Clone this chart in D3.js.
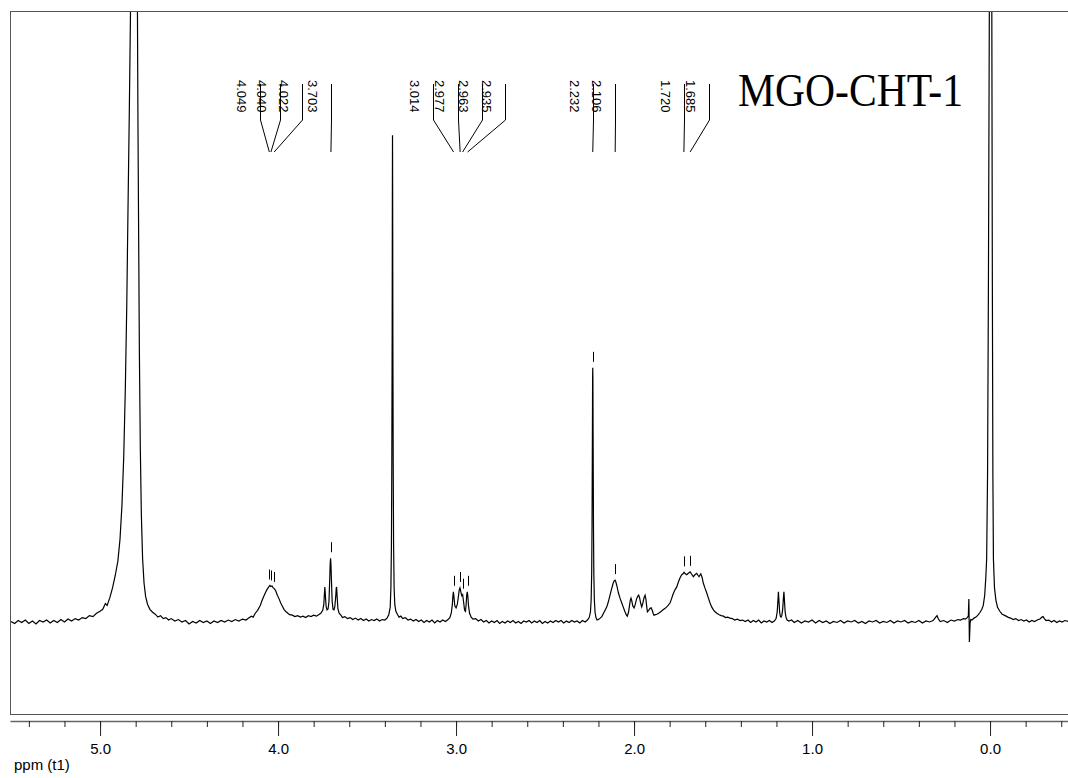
<!DOCTYPE html>
<html>
<head>
<meta charset="utf-8">
<script src="https://cdn.jsdelivr.net/npm/d3@7"></script>
<style>
  body { margin: 0; background: #fff; }
  #graph svg { display: block; }
</style>
</head>
<body>
<div id="graph"></div>
<script>
var sampleName = "MGO-CHT-1";
var axisTitle = "ppm (t1)";

// picked peaks (ppm) and where their leader lines start (ppm), spread so text does not collide
var peakLabels   = [4.049, 4.040, 4.022, 3.703, 3.014, 2.977, 2.963, 2.935, 2.232, 2.106, 1.720, 1.685];
var labelAnchors = [4.101, 3.989, 3.867, 3.703, 3.128, 2.987, 2.856, 2.725, 2.232, 2.106, 1.720, 1.579];

var majorTicks = [5.0, 4.0, 3.0, 2.0, 1.0, 0.0];
var minorTicks = [5.4, 5.2, 5.0, 4.8, 4.6, 4.4, 4.2, 4.0, 3.8, 3.6, 3.4, 3.2, 3.0, 2.8, 2.6, 2.4,
                  2.2, 2.0, 1.8, 1.6, 1.4, 1.2, 1.0, 0.8, 0.6, 0.4, 0.2, 0.0, -0.2, -0.4];

// [ppm, relative intensity] (3.357 singlet = 100)
var spectrum = [
  [5.50,0.1],[5.48,-0.3],[5.46,0.3],[5.44,-0.1],[5.42,0.4],[5.40,-0.3],[5.38,0.2],[5.36,-0.4],[5.34,0.3],[5.32,0.0],
  [5.30,0.4],[5.28,-0.2],[5.26,0.3],[5.24,-0.1],[5.22,0.5],[5.20,0.0],[5.18,0.6],[5.16,0.2],[5.14,0.7],[5.12,0.4],
  [5.10,0.9],[5.08,0.7],[5.06,1.3],[5.04,1.1],[5.02,1.8],[5.00,2.2],[4.985,2.6],[4.97,3.8],[4.96,3.4],[4.945,5.0],
  [4.93,7.0],[4.915,9.5],[4.90,12.5],[4.888,17],[4.877,24],[4.867,34],[4.858,48],[4.850,65],[4.843,85],[4.836,104],
  [4.829,125.5],[4.810,250],[4.790,125.5],[4.787,102],[4.783,78],[4.779,55],[4.774,36],[4.768,22],[4.761,13],[4.753,8],
  [4.744,5.2],[4.733,3.6],[4.72,2.6],[4.705,2.0],[4.69,1.6],[4.675,1.0],[4.66,1.3],[4.645,0.7],[4.63,0.9],[4.615,0.4],
  [4.60,0.7],[4.58,0.2],[4.56,0.5],[4.54,0.0],[4.52,0.3],[4.50,-0.4],[4.48,0.1],[4.46,-0.2],[4.44,0.3],[4.42,-0.1],
  [4.40,0.2],[4.38,-0.3],[4.36,0.2],[4.34,-0.1],[4.32,0.3],[4.30,0.0],[4.28,0.4],[4.26,0.1],[4.24,0.5],[4.22,0.2],
  [4.20,0.6],[4.18,0.4],[4.165,0.8],[4.15,1.2],[4.14,1.0],[4.128,1.8],[4.115,2.4],[4.10,3.4],[4.09,4.4],[4.08,5.3],
  [4.07,6.1],[4.06,6.8],[4.052,7.2],[4.046,7.5],[4.040,7.3],[4.034,7.4],[4.027,7.0],[4.020,6.8],[4.012,6.3],[4.004,5.5],
  [3.995,4.8],[3.985,3.9],[3.975,3.2],[3.965,2.5],[3.955,2.1],[3.945,1.8],[3.935,1.5],[3.92,1.4],[3.905,1.1],[3.89,1.3],
  [3.875,1.0],[3.86,1.2],[3.845,0.9],[3.83,1.3],[3.815,1.1],[3.80,1.4],[3.785,1.2],[3.772,1.5],[3.760,1.8],
  [3.749,2.4],[3.743,3.6],[3.740,5.5],[3.737,7.2],[3.734,5.4],[3.730,3.2],[3.725,2.5],[3.719,2.7],[3.714,4.2],[3.710,8.5],
  [3.707,12],[3.705,13.1],[3.703,12],[3.700,8.5],[3.696,4.2],[3.691,2.6],[3.686,2.5],[3.681,3.2],[3.676,5.2],[3.673,7.0],
  [3.671,7.2],[3.668,5.2],[3.664,2.8],[3.657,1.8],[3.647,1.4],[3.638,0.9],[3.625,1.1],[3.61,0.7],[3.595,0.9],[3.58,0.5],
  [3.565,0.8],[3.55,0.4],[3.535,0.7],[3.52,0.3],[3.505,0.6],[3.49,0.2],[3.475,0.5],[3.46,0.3],[3.445,0.6],[3.43,0.2],
  [3.415,0.5],[3.40,0.4],[3.388,0.8],[3.378,1.5],
  [3.370,3.0],[3.366,7],[3.363,16],[3.361,32],[3.359,58],[3.3578,88],[3.357,100],[3.3562,88],[3.355,58],[3.353,32],
  [3.351,16],[3.348,7],[3.344,3.5],[3.338,2.2],[3.330,1.6],[3.320,1.0],[3.31,1.2],[3.30,0.7],[3.285,0.9],[3.27,0.4],
  [3.255,0.6],[3.24,0.2],[3.225,0.5],[3.21,0.1],[3.195,0.4],[3.18,-0.1],[3.165,0.3],[3.15,0.0],[3.135,0.4],[3.12,-0.2],
  [3.105,0.3],[3.09,0.0],[3.075,0.4],[3.06,0.1],[3.045,0.5],
  [3.035,0.9],[3.027,1.8],[3.021,3.5],[3.018,5.2],[3.015,6.2],[3.012,5.2],[3.007,3.3],[3.000,2.9],[2.993,3.6],[2.987,5.2],
  [2.982,6.6],[2.978,7.0],[2.973,6.2],[2.968,5.4],[2.963,5.6],[2.958,4.2],[2.952,2.4],[2.947,2.2],[2.943,3.8],[2.940,5.6],
  [2.937,6.2],[2.934,5.4],[2.930,3.3],[2.924,1.8],[2.915,1.0],[2.905,0.6],[2.89,0.7],[2.875,0.2],[2.86,0.5],[2.845,0.0],
  [2.83,0.3],[2.815,-0.2],[2.80,0.2],[2.785,-0.1],[2.77,0.3],[2.755,-0.3],[2.74,0.1],[2.725,-0.2],[2.71,0.2],[2.695,-0.1],
  [2.68,0.3],[2.665,-0.2],[2.65,0.1],[2.635,-0.3],[2.62,0.2],[2.605,0.0],[2.59,0.3],[2.575,-0.2],[2.56,0.2],[2.545,-0.1],
  [2.53,0.3],[2.515,-0.3],[2.50,0.1],[2.485,-0.2],[2.47,0.2],[2.455,-0.1],[2.44,0.3],[2.425,0.0],[2.41,0.3],[2.395,-0.2],
  [2.38,0.2],[2.365,-0.1],[2.35,0.3],[2.335,0.0],[2.32,0.2],[2.305,-0.2],[2.29,0.3],[2.275,0.0],[2.262,0.4],[2.252,0.9],
  [2.245,2.0],[2.241,4.5],[2.238,10],[2.236,20],[2.234,38],[2.2328,50],[2.232,52.2],[2.2312,50],[2.230,38],[2.228,20],
  [2.226,10],[2.223,4.5],[2.219,2.0],[2.214,0.9],[2.208,0.4],[2.200,0.5],[2.190,0.8],[2.181,1.1],[2.170,1.9],[2.160,2.6],
  [2.153,3.1],[2.144,4.2],[2.135,5.5],[2.126,6.8],[2.118,7.9],[2.111,8.5],[2.107,8.6],[2.103,8.3],[2.097,7.5],[2.088,6.0],
  [2.079,4.9],[2.069,3.9],[2.060,3.0],[2.051,2.1],[2.044,1.5],[2.038,1.2],[2.031,2.0],[2.025,3.5],[2.021,4.5],[2.017,4.9],
  [2.013,4.4],[2.007,3.3],[2.000,2.9],[1.994,3.5],[1.986,4.7],[1.979,5.3],[1.974,5.5],[1.969,5.0],[1.963,3.9],[1.957,3.1],
  [1.951,3.8],[1.944,5.0],[1.938,5.5],[1.933,4.6],[1.929,3.2],[1.925,2.1],[1.918,2.4],[1.910,2.8],[1.904,2.9],[1.898,2.4],
  [1.892,1.7],[1.888,1.4],[1.880,1.5],[1.872,1.6],[1.862,1.8],[1.850,2.1],[1.837,2.5],[1.825,2.8],[1.811,3.3],[1.798,3.9],
  [1.789,4.8],[1.780,5.8],[1.770,6.6],[1.760,7.2],[1.750,8.3],[1.740,9.2],[1.732,9.7],[1.725,9.9],[1.719,10.2],[1.712,9.9],
  [1.704,9.7],[1.695,10.0],[1.685,10.3],[1.676,9.8],[1.667,9.3],[1.658,9.7],[1.648,10.0],[1.641,9.6],[1.635,9.3],[1.630,9.6],
  [1.625,9.9],[1.618,9.2],[1.611,8.0],[1.602,7.0],[1.592,6.0],[1.583,5.0],[1.573,3.9],[1.564,3.1],[1.554,2.5],[1.545,2.1],
  [1.535,1.8],[1.522,1.5],[1.510,1.3],[1.498,1.2],[1.486,0.9],[1.474,1.0],[1.461,0.8],[1.448,0.7],[1.435,0.4],[1.420,0.6],
  [1.405,0.3],[1.390,0.4],[1.375,0.1],[1.36,0.4],[1.345,-0.1],[1.33,0.3],[1.315,0.0],[1.30,0.4],[1.285,-0.2],[1.27,0.2],
  [1.255,0.0],[1.24,0.3],[1.225,-0.1],[1.212,0.2],
  [1.202,0.7],[1.196,2.0],[1.192,4.2],[1.189,6.2],[1.186,4.4],[1.182,2.0],[1.178,1.2],[1.174,1.0],[1.170,1.3],[1.165,2.6],
  [1.161,4.8],[1.158,6.2],[1.155,4.4],[1.151,2.0],[1.146,0.9],[1.140,0.4],[1.13,0.2],
  [1.115,0.4],[1.10,-0.1],[1.08,0.3],[1.06,-0.2],[1.04,0.2],[1.02,0.0],[1.00,0.4],[0.98,-0.2],[0.96,0.3],[0.94,-0.1],
  [0.92,0.2],[0.90,-0.3],[0.88,0.1],[0.86,-0.1],[0.84,0.3],[0.82,-0.2],[0.80,0.2],[0.78,0.0],[0.76,0.3],[0.74,-0.2],
  [0.72,0.1],[0.70,-0.3],[0.68,0.2],[0.66,0.0],[0.64,0.3],[0.62,-0.2],[0.60,0.1],[0.58,-0.1],[0.56,0.3],[0.54,-0.2],
  [0.52,0.2],[0.50,0.0],[0.48,0.3],[0.46,-0.2],[0.44,0.1],[0.42,-0.1],[0.40,0.3],[0.38,-0.2],[0.36,0.2],[0.34,0.0],
  [0.32,0.3],[0.305,1.0],[0.298,1.3],[0.29,0.6],[0.28,0.1],[0.26,0.3],[0.24,-0.1],[0.22,0.4],[0.20,0.2],[0.18,0.5],
  [0.165,0.4],[0.150,0.7],[0.138,0.6],[0.128,0.9],[0.122,1.2],[0.119,4.7],[0.116,-4.1],[0.112,-0.2],[0.108,0.5],[0.101,0.4],
  [0.090,0.8],[0.079,1.0],[0.068,1.4],[0.056,2.0],[0.046,2.6],[0.038,3.4],[0.030,5.5],[0.024,9],[0.019,13],[0.014,30],
  [0.009,70],[0.004,125.5],[0.0,250],[-0.010,125.5],[-0.013,70],[-0.016,30],[-0.019,13],[-0.025,7],[-0.033,4.5],[-0.042,3.0],
  [-0.055,2.2],[-0.068,1.6],[-0.085,1.3],[-0.10,1.0],[-0.115,0.8],[-0.13,0.5],[-0.145,0.7],[-0.16,0.3],[-0.175,0.5],[-0.19,0.2],
  [-0.205,0.4],[-0.22,0.0],[-0.235,0.3],[-0.25,0.1],[-0.265,0.4],[-0.28,0.6],[-0.292,1.0],[-0.298,1.1],[-0.305,0.7],[-0.315,0.3],
  [-0.33,0.4],[-0.345,0.0],[-0.36,0.3],[-0.375,-0.1],[-0.39,0.2],[-0.405,0.0],[-0.42,0.3],[-0.44,0.1]
];

var W = 1068, H = 778;
var frame = { left: 10, top: 11, right: 1068, bottom: 714 };
var sans = "Arial, 'Liberation Sans', sans-serif";

var svg = d3.select("#graph").append("svg")
    .attr("width", W)
    .attr("height", H);

var x = d3.scaleLinear().domain([5.506, -0.438]).range([frame.left, frame.right]);
var y = d3.scaleLinear().domain([-18.9, 125.5]).range([frame.bottom, frame.top]);

svg.append("defs").append("clipPath")
    .attr("id", "plot-clip")
  .append("rect")
    .attr("x", frame.left + 1)
    .attr("y", frame.top + 1)
    .attr("width", frame.right - frame.left)
    .attr("height", frame.bottom - frame.top - 1);

// frame (right side runs off the page like in the original)
svg.append("rect")
    .attr("x", frame.left + 0.5)
    .attr("y", frame.top + 0.5)
    .attr("width", frame.right - frame.left + 10)
    .attr("height", frame.bottom - frame.top)
    .style("fill", "none")
    .style("stroke", "#555")
    .style("stroke-width", 1)
    .style("shape-rendering", "crispEdges");

var line = d3.line()
    .x(function(d) { return x(d[0]); })
    .y(function(d) { return y(d[1]); });

svg.append("path")
    .datum(spectrum)
    .attr("clip-path", "url(#plot-clip)")
    .attr("d", line)
    .style("fill", "none")
    .style("stroke", "#000")
    .style("stroke-width", 1.2);

// peak pick markers sit just above the local top of the trace
function localTop(ppm) {
    var near = spectrum.filter(function(d) { return Math.abs(d[0] - ppm) < 0.006; });
    return d3.max(near, function(d) { return d[1]; });
}

svg.append("g").selectAll("line")
    .data(peakLabels)
    .enter().append("line")
    .attr("x1", function(d) { return Math.round(x(d)) + 0.5; })
    .attr("x2", function(d) { return Math.round(x(d)) + 0.5; })
    .attr("y1", function(d) { return y(localTop(d)) - 16; })
    .attr("y2", function(d) { return y(localTop(d)) - 6; })
    .style("stroke", "#000")
    .style("stroke-width", 1);

// leader lines and rotated labels
var labels = svg.append("g");
labels.selectAll("path")
    .data(peakLabels)
    .enter().append("path")
    .attr("d", function(d, i) {
        var ax = Math.round(x(labelAnchors[i])) + 0.5;
        return "M" + ax + ",84V120L" + x(d) + ",152";
    })
    .style("fill", "none")
    .style("stroke", "#000")
    .style("stroke-width", 1);

labels.selectAll("text")
    .data(peakLabels)
    .enter().append("text")
    .attr("transform", function(d, i) {
        return "translate(" + (x(labelAnchors[i]) - 18.5) + ",80) rotate(90)";
    })
    .attr("dy", "0.35em")
    .style("font-family", sans)
    .style("font-size", "13px")
    .style("fill", "#000")
    .text(function(d) { return d3.format(".3f")(d); });

svg.append("text")
    .attr("x", 738)
    .attr("y", 106)
    .attr("textLength", 225)
    .attr("lengthAdjust", "spacingAndGlyphs")
    .style("font-family", "'Times New Roman', 'Liberation Serif', serif")
    .style("font-size", "46px")
    .style("fill", "#000")
    .text(sampleName);

// ppm axis: minor ticks every 0.2, labelled major ticks every 1.0
var axisG = svg.append("g").attr("transform", "translate(0,721)");

axisG.append("g")
    .call(d3.axisBottom(x).tickValues(minorTicks).tickSize(6).tickSizeOuter(0).tickFormat(""))
    .call(function(g) { g.select(".domain").style("stroke", "#666").style("stroke-width", 1.5); });

axisG.append("g")
    .call(d3.axisBottom(x).tickValues(majorTicks).tickSize(15).tickSizeOuter(0)
        .tickPadding(7).tickFormat(d3.format(".1f")))
    .call(function(g) { g.select(".domain").remove(); });

axisG.selectAll(".tick line").style("stroke", "#222");
axisG.selectAll(".tick text")
    .style("font-family", sans)
    .style("font-size", "15px")
    .style("fill", "#000");

svg.append("text")
    .attr("x", 14)
    .attr("y", 770)
    .style("font-family", sans)
    .style("font-size", "15px")
    .style("fill", "#000")
    .text(axisTitle);
</script>
</body>
</html>
